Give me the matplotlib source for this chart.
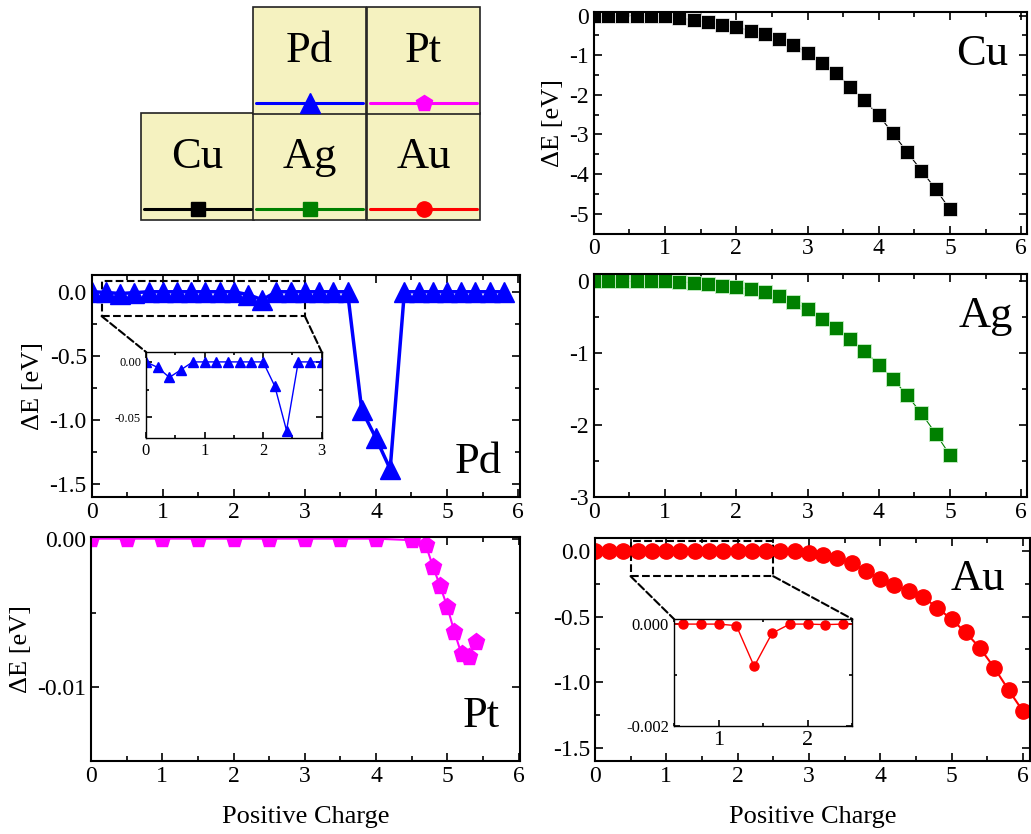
import numpy as np
import matplotlib
matplotlib.use('Agg')
import matplotlib.pyplot as plt
from matplotlib.patches import Rectangle, ConnectionPatch
from matplotlib.ticker import MultipleLocator, FormatStrFormatter

plt.rcParams['font.family'] = ['Liberation Serif', 'DejaVu Serif']
plt.rcParams['axes.unicode_minus'] = False

# ---------------- data ----------------
x_cu = [0.0, 0.2, 0.4, 0.6, 0.8, 1.0, 1.2, 1.4, 1.6, 1.8, 2.0, 2.2, 2.4, 2.6, 2.8,
        3.0, 3.2, 3.4, 3.6, 3.8, 4.0, 4.2, 4.4, 4.6, 4.8, 5.0]
y_cu = [0, 0, 0, 0, 0, -0.02, -0.06, -0.11, -0.17, -0.23, -0.29, -0.38, -0.46, -0.59,
        -0.73, -0.94, -1.19, -1.45, -1.79, -2.14, -2.52, -2.97, -3.45, -3.91, -4.38, -4.89]

x_ag = x_cu
y_ag = [0, 0, 0, 0, 0, 0, -0.01, -0.02, -0.04, -0.06, -0.08, -0.11, -0.15, -0.21,
        -0.29, -0.39, -0.52, -0.65, -0.81, -0.97, -1.16, -1.36, -1.59, -1.84, -2.12, -2.42]

x_pd = [0.0, 0.2, 0.4, 0.6, 0.8, 1.0, 1.2, 1.4, 1.6, 1.8, 2.0, 2.2, 2.4, 2.6, 2.8,
        3.0, 3.2, 3.4, 3.6, 3.8, 4.0, 4.2, 4.4, 4.6, 4.8, 5.0, 5.2, 5.4, 5.6, 5.8]
y_pd = [0, -0.005, -0.014, -0.007, 0, 0, 0, 0, 0, 0, 0, -0.022, -0.062, 0, 0,
        0, 0, 0, 0, -0.92, -1.14, -1.38, 0, 0, 0, 0, 0, 0, 0, 0]
x_pd_in = x_pd[:16]
y_pd_in = y_pd[:16]

x_pt = [0.0, 0.5, 1.0, 1.5, 2.0, 2.5, 3.0, 3.5, 4.0, 4.5, 4.7, 4.8, 4.9, 5.0, 5.1, 5.2, 5.3, 5.4]
y_pt = [0, 0, 0, 0, 0, 0, 0, 0, 0, -0.0001, -0.00045, -0.0019, -0.0032, -0.0046,
        -0.0063, -0.0078, -0.0080, -0.0070]

x_au = [0.0, 0.2, 0.4, 0.6, 0.8, 1.0, 1.2, 1.4, 1.6, 1.8, 2.0, 2.2, 2.4, 2.6, 2.8,
        3.0, 3.2, 3.4, 3.6, 3.8, 4.0, 4.2, 4.4, 4.6, 4.8, 5.0, 5.2, 5.4, 5.6, 5.8, 6.0]
y_au = [0, 0, 0, 0, 0, 0, 0, 0, 0, 0, 0, 0, 0, 0, 0,
        -0.013, -0.03, -0.05, -0.09, -0.15, -0.21, -0.26, -0.30, -0.35, -0.43,
        -0.52, -0.62, -0.74, -0.89, -1.06, -1.22]
x_au_in = [0.4, 0.6, 0.8, 1.0, 1.2, 1.4, 1.6, 1.8, 2.0, 2.2, 2.4, 2.6]
y_au_in = [0, 0, 0, 0, -0.00003, -0.00083, -0.00018, 0, 0, -0.00001, 0, 0]

names = ["Cu", "Ag", "Au", "Pd", "Pt"]
colors = {"Cu": "black", "Ag": "#008000", "Au": "#ff0000", "Pd": "#0000ff", "Pt": "#ff00ff"}
markers = {"Cu": "s", "Ag": "s", "Au": "o", "Pd": "^", "Pt": "p"}

ylabel = "\u0394E [eV]"
xlabel = "Positive Charge"

# ---------------- figure ----------------
fig = plt.figure(figsize=(10.31, 8.34), dpi=100)


def style(ax, xmaj, xmin, ymaj, ymin, lsize=17, major=6, minor=3.5, lw=1.5, fmt=None):
    ax.xaxis.set_major_locator(MultipleLocator(xmaj))
    ax.xaxis.set_minor_locator(MultipleLocator(xmin))
    ax.yaxis.set_major_locator(MultipleLocator(ymaj))
    ax.yaxis.set_minor_locator(MultipleLocator(ymin))
    if fmt:
        ax.yaxis.set_major_formatter(FormatStrFormatter(fmt))
    ax.tick_params(which='both', direction='in', top=True, right=True,
                   labelsize=lsize, width=1.2)
    ax.tick_params(which='major', length=major)
    ax.tick_params(which='minor', length=minor)
    for s in ax.spines.values():
        s.set_linewidth(lw)


def panel_label(ax, text, x, y):
    ax.text(x, y, text, transform=ax.transAxes, ha='right', va='baseline', fontsize=32)


# Cu
ax_cu = fig.add_axes([0.576, 0.720, 0.420, 0.266])
ax_cu.plot(x_cu, y_cu, color=colors["Cu"], lw=0.8, marker='s', ms=10, mec='white', mew=0.5)
ax_cu.set_xlim(0, 6.08)
ax_cu.set_ylim(-5.5, 0.1)
style(ax_cu, 1, 0.5, 1, 0.5)
ax_cu.set_ylabel(ylabel, fontsize=19)
panel_label(ax_cu, "Cu", 0.956, 0.76)

# Ag
ax_ag = fig.add_axes([0.576, 0.4044, 0.420, 0.267])
ax_ag.plot(x_ag, y_ag, color=colors["Ag"], lw=0.8, marker='s', ms=10, mec='#c8f0c8', mew=0.6)
ax_ag.set_xlim(0, 6.08)
ax_ag.set_ylim(-3, 0.1)
style(ax_ag, 1, 0.5, 1, 0.5)
panel_label(ax_ag, "Ag", 0.968, 0.762)

# Pd
ax_pd = fig.add_axes([0.0889, 0.4037, 0.415, 0.2665])
ax_pd.plot(x_pd, y_pd, color=colors["Pd"], lw=2.5, marker='^', ms=14)
ax_pd.set_xlim(0, 6.02)
ax_pd.set_ylim(-1.6, 0.13)
style(ax_pd, 1, 0.5, 0.5, 0.25)
ax_pd.set_ylabel(ylabel, fontsize=19)
panel_label(ax_pd, "Pd", 0.959, 0.109)

ins_pd = fig.add_axes([0.1416, 0.4745, 0.1704, 0.1035])
ins_pd.plot(x_pd_in, y_pd_in, color=colors["Pd"], lw=1.0, marker='^', ms=6.5)
ins_pd.set_xlim(0, 3)
ins_pd.set_ylim(-0.069, 0.009)
style(ins_pd, 1, 0.5, 0.05, 0.025, lsize=12, major=4, minor=2, lw=1.0, fmt='%.2f')
ins_pd.tick_params(axis='y', labelsize=9)
ax_pd.add_patch(Rectangle((0.14, -0.19), 2.86, 0.275, fill=False, ls='--', lw=1.5, ec='black'))
for xa, xb in [(0.14, 0), (3.0, 1)]:
    fig.add_artist(ConnectionPatch(xyA=(xa, -0.19), coordsA=ax_pd.transData,
                                   xyB=(xb, 1), coordsB=ins_pd.transAxes,
                                   ls='--', lw=1.5, color='black'))

# Pt
ax_pt = fig.add_axes([0.0883, 0.0879, 0.416, 0.268])
ax_pt.plot(x_pt, y_pt, color=colors["Pt"], lw=1.5, marker='p', ms=12.5)
ax_pt.set_xlim(0, 6.02)
ax_pt.set_ylim(-0.015, 0.0001)
style(ax_pt, 1, 0.5, 0.01, 0.005, fmt='%.2f')
ax_pt.set_ylabel(ylabel, fontsize=19)
ax_pt.set_xlabel(xlabel, fontsize=19, labelpad=14)
panel_label(ax_pt, "Pt", 0.953, 0.151)

# Au
ax_au = fig.add_axes([0.577, 0.0879, 0.422, 0.2667])
ax_au.plot(x_au, y_au, color=colors["Au"], lw=1.5, marker='o', ms=11)
ax_au.set_xlim(0, 6.1)
ax_au.set_ylim(-1.6, 0.1)
style(ax_au, 1, 0.5, 0.5, 0.25)
ax_au.set_xlabel(xlabel, fontsize=19, labelpad=14)
panel_label(ax_au, "Au", 0.943, 0.768)

ins_au = fig.add_axes([0.6537, 0.1295, 0.1729, 0.1283])
ins_au.plot(x_au_in, y_au_in, color=colors["Au"], lw=1.0, marker='o', ms=6.5)
ins_au.set_xlim(0.5, 2.5)
ins_au.set_ylim(-0.002, 0.0001)
style(ins_au, 1, 0.5, 0.002, 0.001, lsize=16, major=4, minor=2, lw=1.0, fmt='%.3f')
ins_au.tick_params(axis='y', labelsize=12)
ax_au.add_patch(Rectangle((0.5, -0.19), 2.0, 0.27, fill=False, ls='--', lw=1.5, ec='black'))
for xa, xb in [(0.5, 0), (2.5, 1)]:
    fig.add_artist(ConnectionPatch(xyA=(xa, -0.19), coordsA=ax_au.transData,
                                   xyB=(xb, 1), coordsB=ins_au.transAxes,
                                   ls='--', lw=1.5, color='black'))

# ---------------- periodic-table style legend ----------------
lax = fig.add_axes([0, 0, 1, 1])
lax.set_xlim(0, 1031)
lax.set_ylim(834, 0)
lax.axis('off')
cells = {"Cu": (141, 113), "Ag": (253, 113), "Au": (367, 113),
         "Pd": (253, 7), "Pt": (367, 7)}
cw, ch = 113, 107
for name in names:
    cx, cy = cells[name]
    lax.add_patch(Rectangle((cx, cy), cw, ch, facecolor='#f5f2c0', edgecolor='#222222', lw=1.2))
    lax.text(cx + cw / 2, cy + 55, name, ha='center', va='baseline', fontsize=32)
    ly = cy + 96
    lax.plot([cx + 3, cx + cw - 3], [ly, ly], color=colors[name], lw=2.2, solid_capstyle='round')
    ms = {"s": 10, "o": 11, "^": 14, "p": 12}[markers[name]]
    lax.plot([cx + cw / 2], [ly], marker=markers[name], color=colors[name], ms=ms, ls='none')

fig.savefig('out.png', dpi=100)
